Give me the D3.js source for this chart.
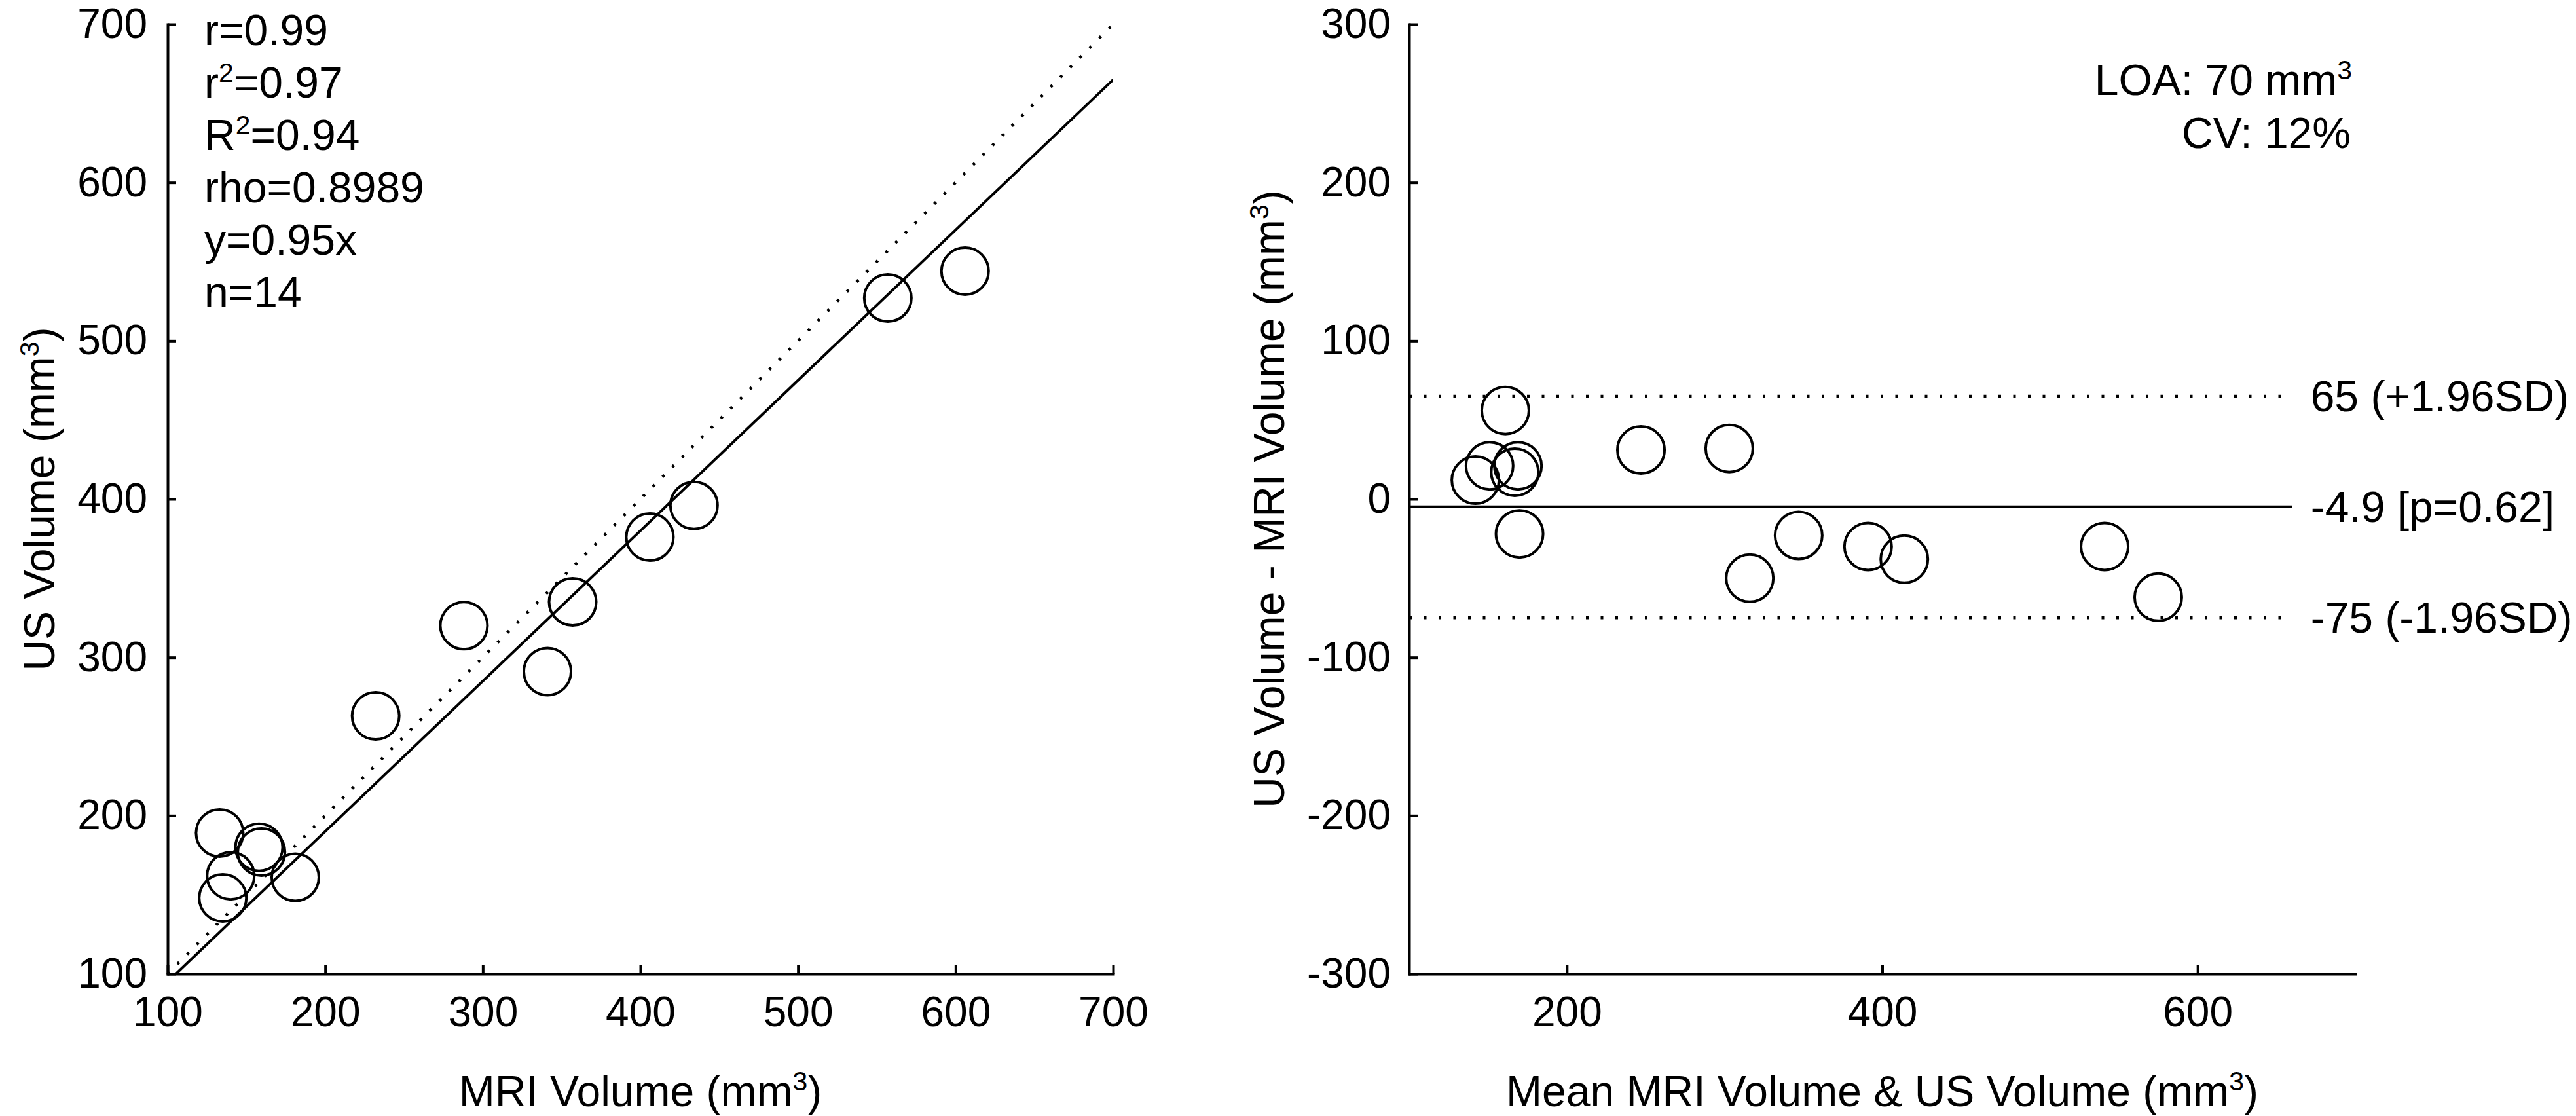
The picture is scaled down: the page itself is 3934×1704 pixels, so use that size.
<!DOCTYPE html>
<html>
<head>
<meta charset="utf-8">
<script src="https://cdn.jsdelivr.net/npm/d3@7"></script>
<style>
  html, body { margin: 0; padding: 0; background: #fff; }
  svg { display: block; }
  text { font-family: "Liberation Sans", Arial, Helvetica, sans-serif; fill: #000; }
</style>
</head>
<body>
<svg id="chart" width="3934" height="1704"></svg>
<script>
// ---- Data ----
// Left panel: MRI volume vs US volume (mm^3)
const mriVolume = [557, 606, 232, 341, 133, 158, 159.5, 140, 135, 181, 288, 357, 406, 434];
const usVolume  = [527, 544, 263, 291, 189, 180, 177, 162, 148, 161, 320, 335, 376, 396];
const leftTicks = [100, 200, 300, 400, 500, 600, 700];
const leftDomain = [100, 700];
const regressionSlope = 0.95;
const leftStats = [
  ["r=0.99"],
  ["r", "2", "=0.97"],
  ["R", "2", "=0.94"],
  ["rho=0.8989"],
  ["y=0.95x"],
  ["n=14"]
];

// Right panel: Bland-Altman
const baMean = [541, 575, 247, 316, 161, 169, 167, 151, 142, 170, 303, 347, 391, 414];
const baDiff = [-30, -62, 31, -50, 56, 21, 17, 21, 12, -22, 32, -23, -30, -38];
const rightXTicks = [200, 400, 600];
const rightYTicks = [-300, -200, -100, 0, 100, 200, 300];
const rightXDomain = [100, 700];
const rightYDomain = [-300, 300];
const baLineEnd = 660;
const baMeanDiff = -4.9;
const baUpper = 65;
const baLower = -75;
const baLabels = ["65 (+1.96SD)", "-4.9 [p=0.62]", "-75 (-1.96SD)"];

// ---- Layout ----
const svg = d3.select("#chart");
const FS = 64, TFS = 66;
const TICK = 13;
const L = { x0: 256, x1: 1700, y0: 1487, y1: 37 };
const R = { x0: 2152, x1: 3597, y0: 1487, y1: 37 };

function styleAxis(g) {
  g.attr("font-size", null).attr("font-family", null);
  g.select(".domain").attr("stroke", "#000").attr("stroke-width", 4).attr("stroke-linecap", "square");
  g.selectAll(".tick line").attr("stroke", "#000").attr("stroke-width", 4);
  g.selectAll(".tick text").style("font-size", FS + "px");
}

function supText(sel, parts, baseSize) {
  // parts: [text, sup, text]
  sel.append("tspan").text(parts[0]);
  if (parts.length > 1) {
    sel.append("tspan").attr("font-size", baseSize * 0.62).attr("dy", -baseSize * 0.36).text(parts[1]);
    sel.append("tspan").attr("dy", baseSize * 0.36).text(parts[2]);
  }
}

// ---- Left panel ----
const xL = d3.scaleLinear().domain(leftDomain).range([L.x0, L.x1]);
const yL = d3.scaleLinear().domain(leftDomain).range([L.y0, L.y1]);

svg.append("clipPath").attr("id", "clipL").append("rect")
  .attr("x", L.x0).attr("y", L.y1).attr("width", L.x1 - L.x0).attr("height", L.y0 - L.y1);

const gL = svg.append("g");
const gLlines = gL.append("g").attr("clip-path", "url(#clipL)");
// identity line (dotted)
gLlines.append("line")
  .attr("x1", xL(leftDomain[0])).attr("y1", yL(leftDomain[0]))
  .attr("x2", xL(leftDomain[1])).attr("y2", yL(leftDomain[1]))
  .attr("stroke", "#000").attr("stroke-width", 4.5).attr("stroke-dasharray", "4,17");
// regression line y = 0.95x
gLlines.append("line")
  .attr("x1", xL(leftDomain[0] / regressionSlope)).attr("y1", yL(leftDomain[0]))
  .attr("x2", xL(leftDomain[1])).attr("y2", yL(leftDomain[1] * regressionSlope))
  .attr("stroke", "#000").attr("stroke-width", 4);

gL.append("g").selectAll("circle").data(mriVolume.map((m, i) => [m, usVolume[i]]))
  .join("circle")
  .attr("cx", d => xL(d[0])).attr("cy", d => yL(d[1])).attr("r", 36)
  .attr("fill", "none").attr("stroke", "#000").attr("stroke-width", 4);

gL.append("g").attr("transform", `translate(0,${L.y0})`)
  .call(d3.axisBottom(xL).tickValues(leftTicks).tickSizeInner(-TICK).tickSizeOuter(0).tickPadding(35).tickFormat(d3.format("d")))
  .call(styleAxis);
gL.append("g").attr("transform", `translate(${L.x0},0)`)
  .call(d3.axisLeft(yL).tickValues(leftTicks).tickSizeInner(-TICK).tickSizeOuter(0).tickPadding(31).tickFormat(d3.format("d")))
  .call(styleAxis);

// Titles
const tLx = svg.append("text").attr("x", (L.x0 + L.x1) / 2).attr("y", 1689)
  .attr("text-anchor", "middle").style("font-size", TFS + "px");
supText(tLx, ["MRI Volume (mm", "3", ")"], TFS);

const tLy = svg.append("text").attr("transform", `translate(83,${(L.y0 + L.y1) / 2}) rotate(-90)`)
  .attr("text-anchor", "middle").style("font-size", TFS + "px");
supText(tLy, ["US Volume (mm", "3", ")"], TFS);

// Stats block
leftStats.forEach((parts, i) => {
  const t = svg.append("text").attr("x", 312).attr("y", 69 + i * 80).style("font-size", TFS + "px");
  supText(t, parts, TFS);
});

// ---- Right panel ----
const xR = d3.scaleLinear().domain(rightXDomain).range([R.x0, R.x1]);
const yR = d3.scaleLinear().domain(rightYDomain).range([R.y0, R.y1]);
const gR = svg.append("g");

[[baUpper, true], [baMeanDiff, false], [baLower, true]].forEach(([v, dotted], i) => {
  const ln = gR.append("line")
    .attr("x1", xR(rightXDomain[0])).attr("x2", xR(baLineEnd))
    .attr("y1", yR(v)).attr("y2", yR(v))
    .attr("stroke", "#000").attr("stroke-width", dotted ? 4.5 : 4);
  if (dotted) ln.attr("stroke-dasharray", "4,18.5");
  gR.append("text").attr("x", xR(baLineEnd) + 28).attr("y", yR(v)).attr("dy", "0.35em")
    .style("font-size", TFS + "px").text(baLabels[i]);
});

gR.append("g").selectAll("circle").data(baMean.map((m, i) => [m, baDiff[i]]))
  .join("circle")
  .attr("cx", d => xR(d[0])).attr("cy", d => yR(d[1])).attr("r", 36)
  .attr("fill", "none").attr("stroke", "#000").attr("stroke-width", 4);

gR.append("g").attr("transform", `translate(0,${R.y0})`)
  .call(d3.axisBottom(xR).tickValues(rightXTicks).tickSizeInner(-TICK).tickSizeOuter(0).tickPadding(35).tickFormat(d3.format("d")))
  .call(styleAxis);
gR.append("g").attr("transform", `translate(${R.x0},0)`)
  .call(d3.axisLeft(yR).tickValues(rightYTicks).tickSizeInner(-TICK).tickSizeOuter(0).tickPadding(28).tickFormat(d => d3.format("d")(d).replace("−", "-")))
  .call(styleAxis);

const tRx = svg.append("text").attr("x", (R.x0 + R.x1) / 2).attr("y", 1689)
  .attr("text-anchor", "middle").style("font-size", TFS + "px");
supText(tRx, ["Mean MRI Volume & US Volume (mm", "3", ")"], TFS);

const tRy = svg.append("text").attr("transform", `translate(1961,${(R.y0 + R.y1) / 2}) rotate(-90)`)
  .attr("text-anchor", "middle").style("font-size", TFS + "px");
supText(tRy, ["US Volume - MRI Volume (mm", "3", ")"], TFS);

const loa = svg.append("text").attr("x", 3592).attr("y", 145).attr("text-anchor", "end").style("font-size", TFS + "px");
supText(loa, ["LOA: 70 mm", "3", ""], TFS);
svg.append("text").attr("x", 3590).attr("y", 226).attr("text-anchor", "end").style("font-size", TFS + "px").text("CV: 12%");
</script>
</body>
</html>
